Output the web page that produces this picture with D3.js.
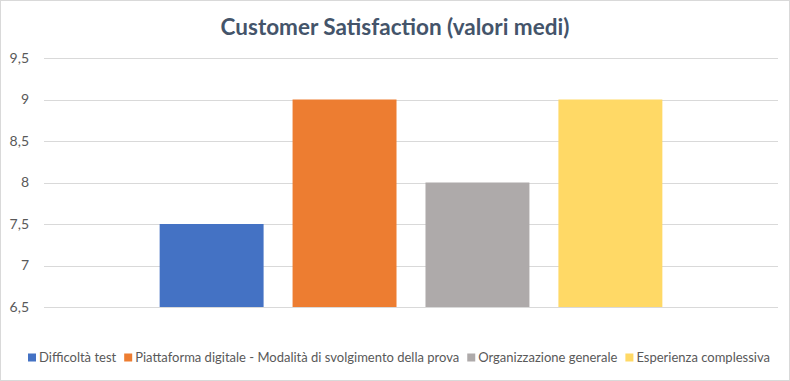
<!DOCTYPE html>
<html>
<head>
<meta charset="utf-8">
<script src="https://cdn.jsdelivr.net/npm/d3@7"></script>
<style>
  body { margin: 0; background: #fff; }
  svg { display: block; font-family: Lato, "Open Sans", sans-serif; }
</style>
</head>
<body>
<svg id="chart" width="790" height="381"></svg>
<script>
const series = ["Difficoltà test", "Piattaforma digitale - Modalità di svolgimento della prova", "Organizzazione generale", "Esperienza complessiva"];
const values = [7.5, 9, 8, 9];
const colors = ["#4472C4", "#ED7D31", "#AEAAAA", "#FFD966"];
const yTicks = [6.5, 7, 7.5, 8, 8.5, 9, 9.5];

const W = 790, H = 381;
const margin = { top: 58, right: 12, bottom: 74, left: 44 };
const svg = d3.select("#chart");

svg.append("rect")
  .attr("x", 0.5).attr("y", 0.5).attr("width", W - 1).attr("height", H - 1)
  .attr("fill", "#fff").attr("stroke", "#D9D9D9");

const x = d3.scaleBand().domain(series)
  .range([margin.left, W - margin.right])
  .paddingInner(0.218).paddingOuter(0.87);
const y = d3.scaleLinear().domain([6.5, 9.5]).range([H - margin.bottom, margin.top]);

// gridlines
svg.append("g")
  .selectAll("line").data(yTicks).join("line")
  .attr("x1", margin.left).attr("x2", W - margin.right)
  .attr("y1", d => Math.round(y(d)) + 0.5).attr("y2", d => Math.round(y(d)) + 0.5)
  .attr("stroke", "#D9D9D9");

// y labels
const fmt = d => String(d).replace(".", ",");
svg.append("g")
  .selectAll("text").data(yTicks).join("text")
  .attr("x", 29).attr("y", d => y(d)).attr("dy", "0.35em")
  .attr("text-anchor", "end")
  .attr("font-size", 14).attr("fill", "#595959")
  .text(fmt);

// bars
svg.append("g")
  .selectAll("rect").data(series).join("rect")
  .attr("x", d => x(d)).attr("width", x.bandwidth())
  .attr("y", (d, i) => y(values[i]))
  .attr("height", (d, i) => y(6.5) - y(values[i]))
  .attr("fill", (d, i) => colors[i]);

// title
svg.append("text")
  .attr("x", W / 2).attr("y", 35)
  .attr("text-anchor", "middle")
  .attr("font-size", 22.5).attr("font-weight", "bold").attr("fill", "#44546A")
  .text("Customer Satisfaction (valori medi)");

// legend
const legend = svg.append("g").attr("transform", "translate(0,362)");
let lx = 28;
series.forEach((s, i) => {
  const g = legend.append("g").attr("transform", `translate(${lx},0)`);
  g.append("rect").attr("x", 0).attr("y", -8.5).attr("width", 8).attr("height", 8).attr("fill", colors[i]);
  const t = g.append("text").attr("x", 11).attr("y", 0)
    .attr("font-size", 13).attr("fill", "#595959").text(s);
  lx += 11 + t.node().getComputedTextLength() + 8;
});
</script>
</body>
</html>
